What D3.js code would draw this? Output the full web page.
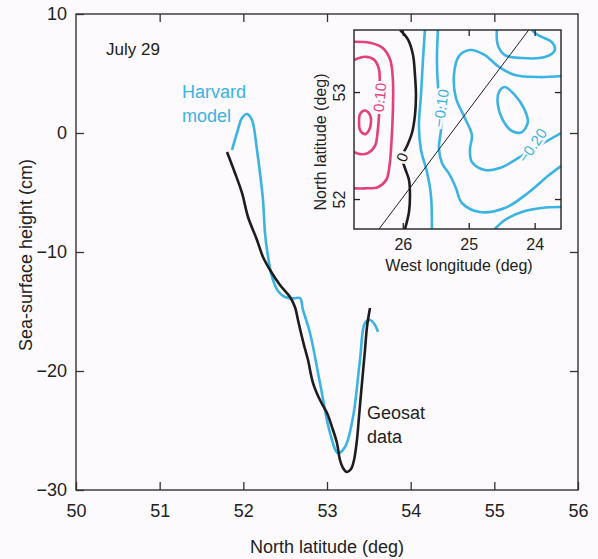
<!DOCTYPE html>
<html>
<head>
<meta charset="utf-8">
<script src="https://cdn.jsdelivr.net/npm/d3@7"></script>
<style>
  body { margin: 0; background: #fdfafd; }
  text { font-family: "Liberation Sans", Arial, sans-serif; fill: #222; }
</style>
</head>
<body>
<script>
// sea-surface height along the track (lat deg, cm)
var geosat = [
  [51.805, -1.6], [51.90, -3.36], [51.984, -5.04], [52.056, -7.06], [52.163, -8.99],
  [52.235, -10.42], [52.319, -11.51], [52.438, -12.77], [52.558, -13.78], [52.617, -14.62],
  [52.653, -15.71], [52.689, -16.81], [52.725, -17.82], [52.773, -19.08], [52.833, -21.01],
  [52.916, -22.44], [53.0, -23.53], [53.06, -24.71], [53.119, -26.05], [53.155, -27.48],
  [53.191, -28.15], [53.239, -28.49], [53.287, -28.24], [53.323, -27.48], [53.358, -25.8],
  [53.382, -23.87], [53.418, -21.01], [53.454, -18.24], [53.478, -16.3], [53.514, -14.71]
];
var harvard = [
  [51.864, -1.43], [51.924, 0.0], [51.984, 1.26], [52.044, 1.6], [52.103, 1.09],
  [52.163, -1.43], [52.199, -3.36], [52.235, -5.63], [52.259, -8.4], [52.283, -9.83],
  [52.343, -12.1], [52.414, -13.28], [52.498, -13.78], [52.60, -13.9], [52.677, -13.87],
  [52.713, -14.87], [52.797, -16.81], [52.916, -21.01], [53.036, -25.21], [53.131, -26.89],
  [53.215, -26.39], [53.311, -23.87], [53.394, -19.08], [53.454, -15.97], [53.514, -15.71],
  [53.574, -16.13], [53.609, -16.72]
];
var latTicks = [50, 51, 52, 53, 54, 55, 56];
var sshTicks = [-30, -20, -10, 0, 10];

// inset contours (west longitude deg, north latitude deg)
var pinkOuter = [[26.74,53.47],[26.50,53.46],[26.30,53.41],[26.19,53.30],[26.15,53.11],[26.15,52.83],
  [26.17,52.55],[26.20,52.32],[26.25,52.18],[26.38,52.11],[26.57,52.10],[26.74,52.10]];
var pinkInner = [[26.74,53.30],[26.57,53.33],[26.43,53.30],[26.36,53.21],[26.35,53.07],[26.35,52.93],
  [26.36,52.79],[26.38,52.64],[26.42,52.50],[26.53,52.43],[26.65,52.42],[26.74,52.44]];
var pinkLoop = [[26.573,52.827],[26.497,52.785],[26.482,52.72],[26.512,52.645],[26.573,52.607],
  [26.648,52.645],[26.663,52.72],[26.648,52.794]];
var zeroLine = [[26.04,53.58],[25.92,53.49],[25.845,53.346],[25.815,53.159],[25.80,52.972],[25.815,52.785],
  [25.861,52.617],[25.936,52.495],[26.012,52.393],[25.967,52.29],[25.906,52.178],[25.891,52.037],
  [25.906,51.879],[25.967,51.72]];
var cyanA = [[25.664,53.58],[25.694,53.299],[25.724,52.972],[25.755,52.682],[25.724,52.458],
  [25.633,52.252],[25.573,52.037],[25.558,51.72]];
var cyanB = [[25.467,53.58],[25.482,53.299],[25.467,53.065],[25.421,52.85],[25.421,52.645],
  [25.452,52.477],[25.406,52.336],[25.285,52.224],[25.194,52.103],[25.103,51.963],[24.83,51.879],
  [24.452,51.916],[24.103,52.056],[23.80,52.215],[23.60,52.308]];
var cyanS = [[23.60,53.15],[23.921,53.14],[24.30,53.159],[24.558,53.243],[24.755,53.346],[24.982,53.393],
  [25.148,53.336],[25.224,53.159],[25.194,52.944],[25.058,52.757],[24.952,52.598],[24.982,52.458],
  [24.952,52.346],[24.755,52.271],[24.527,52.29],[24.30,52.364],[23.997,52.477],[23.60,52.617]];
var cyanCorner = [[24.603,51.72],[24.452,51.804],[24.194,51.879],[23.891,51.916],[23.60,51.925]];
var cyanTop = [[24.573,53.58],[24.558,53.439],[24.452,53.346],[24.194,53.318],[23.845,53.327],
  [23.694,53.393],[23.739,53.467],[23.952,53.533],[24.042,53.58]];
var cyanLoop = [[24.452,53.047],[24.30,52.972],[24.164,52.85],[24.103,52.72],[24.194,52.626],
  [24.345,52.636],[24.482,52.738],[24.558,52.879],[24.542,53.0]];
var track = [[26.36,51.72],[24.09,53.58]];
var contourLabels = [
  { text: "0.10", at: [26.35, 52.95], angle: -84, color: "#e4407e" },
  { text: "\u22120.10", at: [25.42, 52.85], angle: -82, color: "#3bb3e3" },
  { text: "0", at: [26.01, 52.39], angle: -70, color: "#222" },
  { text: "\u22120.20", at: [24.03, 52.50], angle: -55, color: "#3bb3e3" }
];
var lonTicks = [26, 25, 24];
var insetLatTicks = [52, 53];

var pink = "#e4407e", cyan = "#3bb3e3", bg = "#fdfafd";

var svg = d3.select("body").append("svg")
    .attr("width", 598)
    .attr("height", 559);

var x = d3.scaleLinear().domain([50, 56]).range([76, 578]);
var y = d3.scaleLinear().domain([-30, 10]).range([490, 14]);

// main axes, ticks pointing inward
svg.append("g").attr("transform", "translate(0,490)")
    .call(d3.axisBottom(x).tickValues(latTicks).tickSize(-8).tickPadding(14).tickFormat(d3.format("d")));
svg.append("g").attr("transform", "translate(0,14)")
    .call(d3.axisTop(x).tickValues(latTicks.slice(1, -1)).tickSize(-8).tickFormat(""));
svg.append("g").attr("transform", "translate(76,0)")
    .call(d3.axisLeft(y).tickValues(sshTicks).tickSize(-8).tickPadding(9));
svg.append("g").attr("transform", "translate(578,0)")
    .call(d3.axisRight(y).tickValues(sshTicks.slice(1, -1)).tickSize(-8).tickFormat(""));
svg.selectAll(".domain").remove();
svg.selectAll(".tick line").attr("stroke", "#333").attr("stroke-width", 1.3);
svg.selectAll(".tick text").style("font-size", "18px").attr("fill", "#222");

svg.append("rect")
    .attr("x", 76).attr("y", 14).attr("width", 502).attr("height", 476)
    .attr("fill", "none").attr("stroke", "#333").attr("stroke-width", 1.4);

var line = d3.line()
    .x(function (d) { return x(d[0]); })
    .y(function (d) { return y(d[1]); })
    .curve(d3.curveCatmullRom.alpha(0.5));

svg.append("path").datum(harvard)
    .attr("d", line).attr("fill", "none").attr("stroke", cyan).attr("stroke-width", 2.6);
svg.append("path").datum(geosat)
    .attr("d", line).attr("fill", "none").attr("stroke", "#1d1d1d").attr("stroke-width", 2.6);

svg.append("text").attr("x", 106).attr("y", 55).style("font-size", "17px").text("July 29");
svg.append("text").attr("x", 182).attr("y", 98).style("font-size", "18px").style("fill", cyan).text("Harvard");
svg.append("text").attr("x", 182).attr("y", 122).style("font-size", "18px").style("fill", cyan).text("model");
svg.append("text").attr("x", 367).attr("y", 419).style("font-size", "18px").text("Geosat");
svg.append("text").attr("x", 367).attr("y", 443).style("font-size", "18px").text("data");

svg.append("text")
    .attr("x", 327).attr("y", 553)
    .style("text-anchor", "middle").style("font-size", "18px")
    .text("North latitude (deg)");
svg.append("text")
    .attr("transform", "rotate(-90)")
    .attr("x", -255).attr("y", 32)
    .style("text-anchor", "middle").style("font-size", "18px")
    .text("Sea-surface height (cm)");

// inset map
var ix = d3.scaleLinear().domain([26.74, 23.6]).range([354, 561]);
var iy = d3.scaleLinear().domain([51.72, 53.58]).range([229, 30]);

var inset = svg.append("g");
inset.append("rect")
    .attr("x", 354).attr("y", 30).attr("width", 207).attr("height", 199)
    .attr("fill", bg).attr("stroke", "none");

var iline = d3.line()
    .x(function (d) { return ix(d[0]); })
    .y(function (d) { return iy(d[1]); })
    .curve(d3.curveCatmullRom.alpha(0.5));
var iloop = d3.line()
    .x(function (d) { return ix(d[0]); })
    .y(function (d) { return iy(d[1]); })
    .curve(d3.curveCatmullRomClosed.alpha(0.5));

var clip = svg.append("clipPath").attr("id", "inset-clip");
clip.append("rect").attr("x", 354).attr("y", 30).attr("width", 207).attr("height", 199);
var cg = inset.append("g").attr("clip-path", "url(#inset-clip)");

[pinkOuter, pinkInner].forEach(function (c) {
  cg.append("path").datum(c).attr("d", iline).attr("fill", "none")
    .attr("stroke", pink).attr("stroke-width", 2.6);
});
cg.append("path").datum(pinkLoop).attr("d", iloop).attr("fill", "none")
  .attr("stroke", pink).attr("stroke-width", 2.6);
cg.append("path").datum(zeroLine).attr("d", iline).attr("fill", "none")
  .attr("stroke", "#1d1d1d").attr("stroke-width", 2.6);
[cyanA, cyanB, cyanS, cyanCorner, cyanTop].forEach(function (c) {
  cg.append("path").datum(c).attr("d", iline).attr("fill", "none")
    .attr("stroke", cyan).attr("stroke-width", 2.6);
});
cg.append("path").datum(cyanLoop).attr("d", iloop).attr("fill", "none")
  .attr("stroke", cyan).attr("stroke-width", 2.6);

cg.append("path").datum(track)
  .attr("d", d3.line().x(function (d) { return ix(d[0]); }).y(function (d) { return iy(d[1]); }))
  .attr("fill", "none").attr("stroke", "#222").attr("stroke-width", 1);

cg.selectAll(".clabel")
  .data(contourLabels)
  .enter().append("text")
    .attr("class", "clabel")
    .attr("transform", function (d) {
      return "translate(" + ix(d.at[0]) + "," + iy(d.at[1]) + ") rotate(" + d.angle + ")";
    })
    .attr("dy", "0.35em")
    .style("text-anchor", "middle")
    .style("font-size", "15px")
    .style("fill", function (d) { return d.color; })
    .style("stroke", bg).style("stroke-width", 5)
    .style("paint-order", "stroke")
    .text(function (d) { return d.text; });

inset.append("g").attr("transform", "translate(0,229)")
    .call(d3.axisBottom(ix).tickValues(lonTicks).tickSize(-6).tickPadding(10).tickFormat(d3.format("d")));
inset.append("g").attr("transform", "translate(0,30)")
    .call(d3.axisTop(ix).tickValues(lonTicks).tickSize(-6).tickFormat(""));
var iyAxis = inset.append("g").attr("transform", "translate(354,0)")
    .call(d3.axisLeft(iy).tickValues(insetLatTicks).tickSize(-6).tickFormat(d3.format("d")));
iyAxis.selectAll("text")
    .attr("transform", "rotate(-90)")
    .attr("x", 0).attr("y", -9).attr("dy", 0)
    .style("text-anchor", "middle");
inset.append("g").attr("transform", "translate(561,0)")
    .call(d3.axisRight(iy).tickValues(insetLatTicks).tickSize(-6).tickFormat(""));
inset.selectAll(".domain").remove();
inset.selectAll(".tick line").attr("stroke", "#222").attr("stroke-width", 1.3);
inset.selectAll(".tick text").style("font-size", "16px").attr("fill", "#222");

inset.append("rect")
    .attr("x", 354).attr("y", 30).attr("width", 207).attr("height", 199)
    .attr("fill", "none").attr("stroke", "#222").attr("stroke-width", 1.4);

inset.append("text")
    .attr("x", 459).attr("y", 271)
    .style("text-anchor", "middle").style("font-size", "16px")
    .text("West longitude (deg)");
inset.append("text")
    .attr("transform", "rotate(-90)")
    .attr("x", -142).attr("y", 326)
    .style("text-anchor", "middle").style("font-size", "16px")
    .text("North latitude (deg)");
</script>
</body>
</html>
